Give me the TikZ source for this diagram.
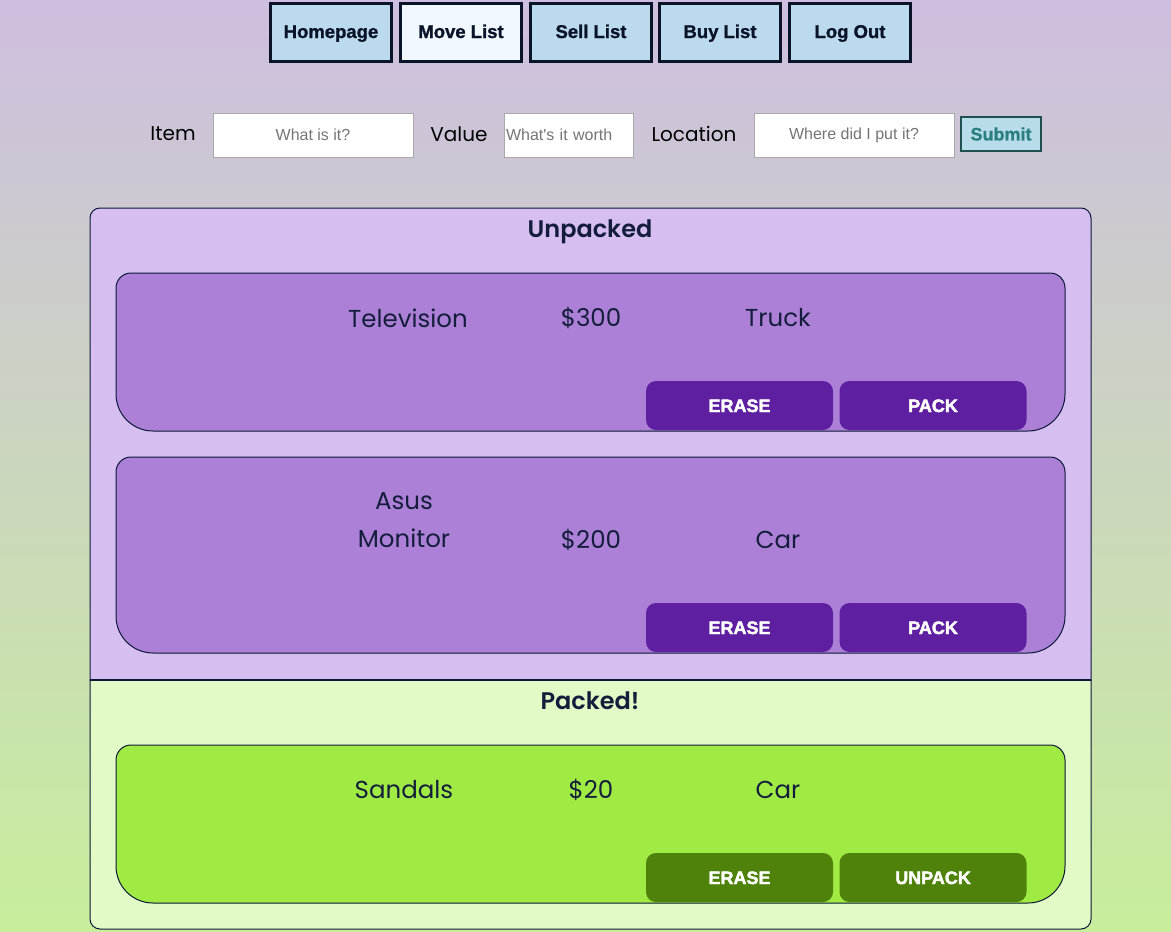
\documentclass[tikz,border=0pt]{standalone}
\usepackage{fontspec}
\setmainfont{Poppins}
\newfontfamily\popmed{Poppins SemiBold}
\newfontfamily\arialf[BoldFeatures={FakeBold=1.2}]{Liberation Sans}
\newfontfamily\arialblk[BoldFeatures={FakeBold=2.2}]{Liberation Sans}
\definecolor{bgtop}{HTML}{CEBEE0}
\definecolor{bgmid}{HTML}{CDD0C8}
\definecolor{bgbot}{HTML}{C8EE9C}
\definecolor{navfill}{HTML}{BCDAEE}
\definecolor{navsel}{HTML}{F2F8FF}
\definecolor{navline}{HTML}{0A1428}
\definecolor{inline}{HTML}{A9A9A9}
\definecolor{phtext}{HTML}{757575}
\definecolor{subfill}{HTML}{B8DCEA}
\definecolor{subline}{HTML}{1E5050}
\definecolor{subtext}{HTML}{2A8080}
\definecolor{unfill}{HTML}{D6BEF0}
\definecolor{uncard}{HTML}{AC80D6}
\definecolor{unbtn}{HTML}{5E20A0}
\definecolor{pkfill}{HTML}{E2FAC6}
\definecolor{pkcard}{HTML}{A0EA44}
\definecolor{pkbtn}{HTML}{4E820A}
\definecolor{ink}{HTML}{141E3C}
\definecolor{edge}{HTML}{0C1838}
\tikzset{
  navbtn/.style={draw=navline, line width=3pt, fill=navfill, minimum width=121pt, minimum height=58pt, inner sep=0pt, text height=14pt, text depth=2pt, font=\arialf\bfseries\fontsize{18.5}{20}\selectfont, text=navline},
  lbl/.style={font=\fontsize{20}{22}\selectfont, text=black, inner sep=0pt},
  inbox/.style={draw=inline, line width=1pt, fill=white, minimum height=44pt, inner sep=0pt, font=\arialf\fontsize{16}{18}\selectfont, text=phtext},
  itemtxt/.style={font=\fontsize{24.5}{38}\selectfont, text=ink, inner sep=0pt, align=center},
  title/.style={anchor=base, font=\popmed\fontsize{24}{26}\selectfont, text=ink, inner sep=0pt},
  actbtn/.style={rounded corners=10pt, minimum width=187pt, minimum height=49pt, inner sep=0pt, text height=13pt, text depth=0pt, font=\arialblk\bfseries\fontsize{18}{19}\selectfont, text=white},
}
\newcommand\itemcard[5]{% x1 y1 x2 y2 colour
  \draw[edge, line width=1pt, fill=#5]
    (#1,{(#2+#4)/2}) [rounded corners=15pt] -- (#1,#2) -- (#3,#2) -- (#3,{(#2+#4)/2})
    [rounded corners=37pt] -- (#3,#4) -- (#1,#4) -- cycle;}
\begin{document}
\begin{tikzpicture}[x=1pt,y=-1pt]
\useasboundingbox (0,0) rectangle (1171,932);
\shade[top color=bgtop, middle color=bgmid, bottom color=bgbot] (0,0) rectangle (1171,932);

% navigation
\node[navbtn] (home) at (331,32) {Homepage};
\node[navbtn, fill=navsel] (move) at (461,32) {Move List};
\node[navbtn] (sell) at (591,32) {Sell List};
\node[navbtn] (buy) at (720,32) {Buy List};
\node[navbtn] (logout) at (850,32) {Log Out};

% form
\node[lbl] (litem) at (173,134) {Item};
\node[inbox, minimum width=200pt] (iitem) at (313,135) {What is it?};
\node[lbl] (lvalue) at (459,134) {Value};
\node[inbox, minimum width=129pt, text width=125pt, align=left] (ivalue) at (568.5,135) {What's it worth};
\node[lbl] (lloc) at (694,134) {Location};
\node[inbox, minimum width=200pt] (iloc) at (854,135) {Where did I put it?};
\node[draw=subline, line width=2.5pt, fill=subfill, minimum width=80pt, minimum height=34pt, inner sep=0pt, font=\arialf\bfseries\fontsize{18}{20}\selectfont, text=subtext] (submit) at (1001,134) {Submit};

% unpacked container
\draw[edge, line width=1pt, fill=unfill]
  (90,680) [rounded corners=10pt] -- (90,208) -- (1091,208) [sharp corners] -- (1091,680) -- cycle;
\node[title] (tun) at (590,237) {Unpacked};

\itemcard{116}{273}{1065}{431}{uncard}
\node[itemtxt] (n1) at (408,318) {Television};
\node[itemtxt] (v1) at (591,318) {\$300};
\node[itemtxt] (l1) at (778,318) {Truck};
\node[actbtn, fill=unbtn] (e1) at (739.5,405.5) {ERASE};
\node[actbtn, fill=unbtn] (p1) at (933,405.5) {PACK};

\itemcard{116}{457}{1065}{653}{uncard}
\node[itemtxt] (n2) at (404,520) {Asus\\Monitor};
\node[itemtxt] (v2) at (591,540) {\$200};
\node[itemtxt] (l2) at (778,540) {Car};
\node[actbtn, fill=unbtn] (e2) at (739.5,627.5) {ERASE};
\node[actbtn, fill=unbtn] (p2) at (933,627.5) {PACK};

% packed container
\draw[edge, line width=1pt, fill=pkfill]
  (90,680) -- (1091,680) [rounded corners=10pt] -- (1091,929) -- (90,929) [sharp corners] -- cycle;
\draw[edge, line width=2pt] (90,680) -- (1091,680);
\node[title] (tpk) at (590,709) {Packed!};

\itemcard{116}{745}{1065}{903}{pkcard}
\node[itemtxt] (n3) at (404,790) {Sandals};
\node[itemtxt] (v3) at (591,790) {\$20};
\node[itemtxt] (l3) at (778,790) {Car};
\node[actbtn, fill=pkbtn] (e3) at (739.5,877.5) {ERASE};
\node[actbtn, fill=pkbtn] (u3) at (933,877.5) {UNPACK};
\end{tikzpicture}
\end{document}
